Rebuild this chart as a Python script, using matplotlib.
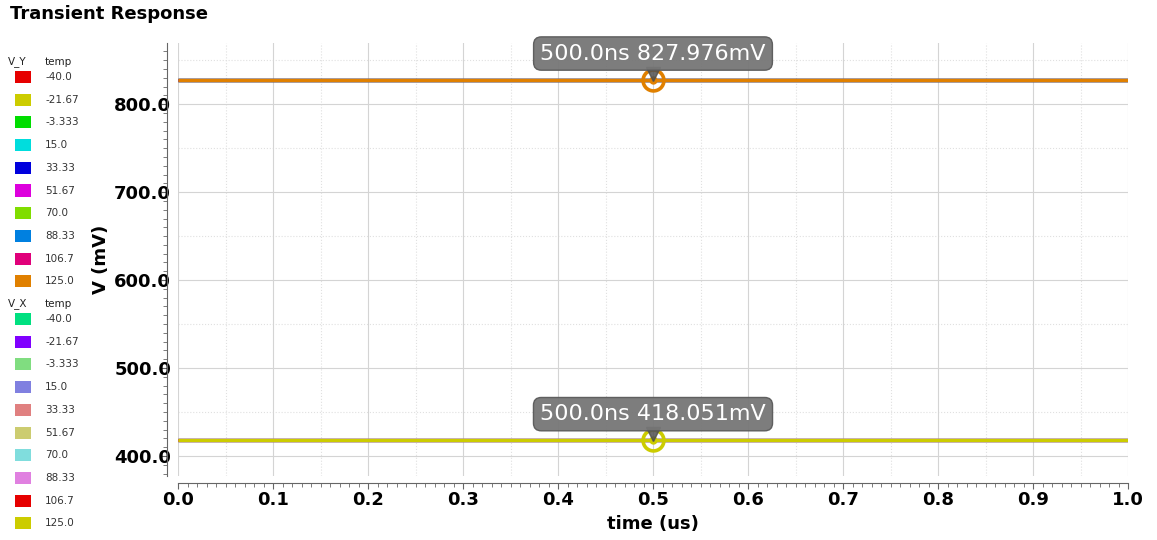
import numpy as np
import matplotlib
matplotlib.use('Agg')
import matplotlib.pyplot as plt
from matplotlib.patches import Rectangle
from matplotlib.ticker import MultipleLocator, FormatStrFormatter
from matplotlib import transforms

# data: time axis (us) and the steady node voltages (mV) per temperature
time_us = [0.0, 1.0]
temps = ['-40.0', '-21.67', '-3.333', '15.0', '33.33', '51.67', '70.0', '88.33', '106.7', '125.0']
v_y = [827.95, 827.96, 827.96, 827.97, 827.97, 827.97, 827.97, 827.98, 827.98, 827.976]
v_x = [417.7, 417.75, 417.8, 417.85, 417.9, 417.95, 418.0, 418.02, 418.04, 418.051]
colors_y = ['#e60000', '#cccc00', '#00dd00', '#00dddd', '#0000dd',
            '#dd00dd', '#80dd00', '#0080e0', '#e0007a', '#e08000']
colors_x = ['#00e080', '#8000ff', '#80dd80', '#8080e0', '#e08080',
            '#cccc70', '#80dddd', '#e080e0', '#e60000', '#cccc00']
marker_t = 0.5
markers = [(827.976, '#e08000', '500.0ns 827.976mV'),
           (418.051, '#cccc00', '500.0ns 418.051mV')]

W, H = 1157, 540
fig = plt.figure(figsize=(W / 100, H / 100), dpi=100)
ax = fig.add_axes([178 / W, 1 - 476 / H, 950 / W, 433 / H])

for vals, cols in ((v_x, colors_x), (v_y, colors_y)):
    for v, c in zip(vals, cols):
        ax.plot(time_us, [v, v], color=c, lw=2.3, solid_capstyle='butt')

ax.set_xlim(0, 1.0)
ax.set_ylim(377.3, 869.5)

ax.xaxis.set_major_locator(MultipleLocator(0.1))
ax.xaxis.set_minor_locator(MultipleLocator(0.01))
ax.yaxis.set_major_locator(MultipleLocator(100))
ax.yaxis.set_minor_locator(MultipleLocator(10))
ax.xaxis.set_major_formatter(FormatStrFormatter('%.1f'))
ax.yaxis.set_major_formatter(FormatStrFormatter('%.1f'))

# grid: solid major, dotted half-step
ax.grid(which='major', color='#d4d4d4', lw=0.8)
for x in np.arange(0.05, 1.0, 0.1):
    ax.axvline(x, color='#e0e0e0', lw=0.8, ls=':', zorder=0)
for y in np.arange(450, 900, 100):
    ax.axhline(y, color='#e0e0e0', lw=0.8, ls=':', zorder=0)
ax.set_axisbelow(True)

for s in ['top', 'right']:
    ax.spines[s].set_visible(False)
ax.spines['left'].set_position(('outward', 8))
ax.spines['bottom'].set_position(('outward', 5))
for s in ['left', 'bottom']:
    ax.spines[s].set_color('#666666')
ax.tick_params(which='both', colors='#666666', labelcolor='black')
ax.tick_params(which='major', length=4, labelsize=13)
ax.tick_params(which='minor', length=3)
ax.tick_params(axis='y', which='major', pad=-7)
ax.tick_params(axis='x', which='major', pad=2)
for lab in ax.get_xticklabels() + ax.get_yticklabels():
    lab.set_fontweight('bold')

ax.set_xlabel('time (us)', fontsize=13, fontweight='bold', labelpad=4)
ax.set_ylabel('V (mV)', fontsize=13, fontweight='bold', labelpad=3)
fig.text(10 / W, 1 - 14 / H, 'Transient Response', fontsize=13, fontweight='bold',
         va='center', ha='left')

# cursor markers with tooltip
for v, c, txt in markers:
    ax.plot(marker_t, v, 'o', ms=15, mfc='none', mec=c, mew=2.6, zorder=5)
    ax.plot(marker_t, v, 'o', ms=5, color=c, zorder=6)
    tri = transforms.offset_copy(ax.transData, fig=fig, x=0, y=6, units='dots')
    ax.plot(marker_t, v, 'v', ms=10, color='#505050', alpha=0.85, transform=tri, zorder=7)
    ax.annotate(txt, (marker_t, v), xytext=(0, 26), textcoords='offset pixels',
                ha='center', va='center', fontsize=16, color='white', zorder=8,
                bbox=dict(boxstyle='round,pad=0.3,rounding_size=0.35',
                          fc='#767676', ec='#5a5a5a', alpha=0.95))

# legend on the left
def legend_block(y0, name, cols):
    fig.text(8 / W, 1 - y0 / H, name, fontsize=7.5, va='center', ha='left', color='#222222')
    fig.text(45 / W, 1 - y0 / H, 'temp', fontsize=7.5, va='center', ha='left', color='#222222')
    for i, (t, c) in enumerate(zip(temps, cols)):
        yc = y0 + 15 + i * 22.7
        fig.patches.append(Rectangle((15 / W, 1 - (yc + 6) / H), 16 / W, 12 / H,
                                     transform=fig.transFigure, fc=c, ec='none'))
        fig.text(45 / W, 1 - yc / H, t, fontsize=7.5, va='center', ha='left',
                 color='#333333')

legend_block(62, 'V_Y', colors_y)
legend_block(304, 'V_X', colors_x)

fig.savefig('out.png', dpi=100)
